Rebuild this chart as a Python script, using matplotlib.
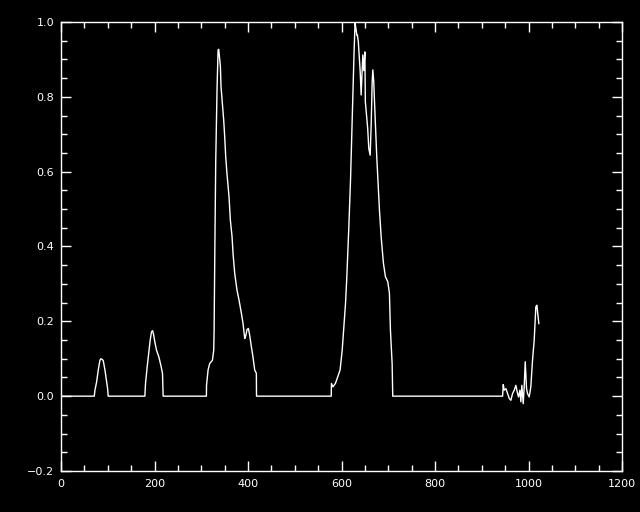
import numpy as np
import matplotlib
matplotlib.use("Agg")
import matplotlib.pyplot as plt
from matplotlib.ticker import MultipleLocator

# Data segments (x, y)
bump1_x = [0, 71.2, 72.6, 76.2, 79.7, 83.3, 85.4, 88.3, 90.4, 94.0, 97.5, 99.7, 101.0]
bump1_y = [0, 0, 0.016, 0.038, 0.070, 0.096, 0.100, 0.098, 0.095, 0.070, 0.038, 0.020, 0]

bump2_x = [179.4, 180.8, 184.3, 187.9, 190.8, 193.6, 195.8, 197.9, 200.7, 204.3, 209.3, 213.5, 217.1, 218.5]
bump2_y = [0, 0.034, 0.078, 0.118, 0.150, 0.172, 0.175, 0.166, 0.145, 0.123, 0.105, 0.083, 0.061, 0]

peak1_x = [311.0, 311.3, 314.6, 318.0, 323.9, 326.7, 327.5, 328.9, 331.0, 333.8, 336.0, 337.4,
           339.5, 341.0, 342.3, 345.2, 348.0, 350.2, 352.3, 355.0, 359.4, 362.3, 365.9, 368.0,
           371.6, 376.5, 380.8, 385.9, 389.4, 393.0, 395.0, 397.9, 400.8, 403.6, 407.2, 410.6,
           414.3, 417.9, 418.2]
peak1_y = [0, 0.029, 0.070, 0.087, 0.096, 0.123, 0.176, 0.372, 0.630, 0.822, 0.925, 0.927,
           0.900, 0.880, 0.827, 0.780, 0.738, 0.693, 0.640, 0.595, 0.533, 0.470, 0.426, 0.381,
           0.328, 0.283, 0.257, 0.221, 0.194, 0.154, 0.160, 0.178, 0.181, 0.163, 0.132, 0.105,
           0.070, 0.061, 0]

peak2_x = [578.0, 578.5, 581.5, 587.0, 592.0, 597.0, 601.5, 604.0, 608.6, 611.4, 615.7, 619.3,
           624.2, 627.0, 629.0, 630.0, 632.8, 634.0, 636.0, 640.0, 642.0, 645.6, 647.7, 650.0,
           651.0, 656.0, 658.4, 661.3, 663.5, 665.6, 667.0, 669.0, 670.5, 675.4, 677.6, 681.2,
           684.8, 689.7, 694.0, 699.0, 702.5, 704.7, 708.3, 709.6]
peak2_y = [0, 0.034, 0.025, 0.034, 0.052, 0.070, 0.123, 0.168, 0.248, 0.319, 0.453, 0.578,
           0.800, 0.925, 0.997, 0.990, 0.965, 0.965, 0.947, 0.867, 0.805, 0.912, 0.870, 0.920,
           0.787, 0.716, 0.662, 0.644, 0.725, 0.840, 0.872, 0.840, 0.790, 0.640, 0.586, 0.497,
           0.426, 0.355, 0.319, 0.306, 0.275, 0.176, 0.087, 0]

tail_x = [944.6, 946.0, 948.1, 951.7, 955.2, 958.8, 962.3, 965.9, 969.5, 973.0, 976.6, 978.7,
          981.6, 983.7, 985.8, 988.7, 990.8, 993.0, 995.8, 997.9, 1001.5, 1005.0, 1008.6,
          1012.2, 1015.7, 1017.9, 1020.7, 1022.1]
tail_y = [0, 0.031, 0.016, 0.020, 0.007, -0.006, -0.011, 0.007, 0.016, 0.029, 0.007, -0.002,
          0.016, -0.015, 0.029, -0.020, 0.025, 0.092, 0.020, 0.007, -0.002, 0.025, 0.096,
          0.150, 0.239, 0.243, 0.212, 0.194]

x = np.concatenate([bump1_x, bump2_x, peak1_x, peak2_x, tail_x])
y = np.concatenate([bump1_y, bump2_y, peak1_y, peak2_y, tail_y])

fig = plt.figure(figsize=(6.4, 5.12), dpi=100, facecolor="black")
ax = fig.add_axes([61/640, 1 - 471/512, (622-61)/640, (471-22)/512])
ax.set_facecolor("black")
ax.plot(x, y, color="white", lw=1.0)

ax.set_xlim(0, 1200)
ax.set_ylim(-0.2, 1.0)
ax.xaxis.set_major_locator(MultipleLocator(200))
ax.xaxis.set_minor_locator(MultipleLocator(50))
ax.yaxis.set_major_locator(MultipleLocator(0.2))
ax.yaxis.set_minor_locator(MultipleLocator(0.05))
ax.set_yticklabels([]) if False else None

for s in ax.spines.values():
    s.set_color("white")
    s.set_linewidth(1.0)
ax.tick_params(which="both", direction="in", top=True, right=True, colors="white",
               labelsize=8, width=1.0)
ax.tick_params(which="major", length=7.5)
ax.tick_params(which="minor", length=4)
ax.tick_params(axis="x", pad=6)
ax.tick_params(axis="y", pad=5)

ax.set_yticks([-0.2, 0.0, 0.2, 0.4, 0.6, 0.8, 1.0])
ax.set_yticklabels(["−0.2", "0.0", "0.2", "0.4", "0.6", "0.8", "1.0"])
ax.set_xticks([0, 200, 400, 600, 800, 1000, 1200])
ax.set_xticklabels(["0", "200", "400", "600", "800", "1000", "1200"])

fig.savefig("out.png", dpi=100, facecolor="black")
